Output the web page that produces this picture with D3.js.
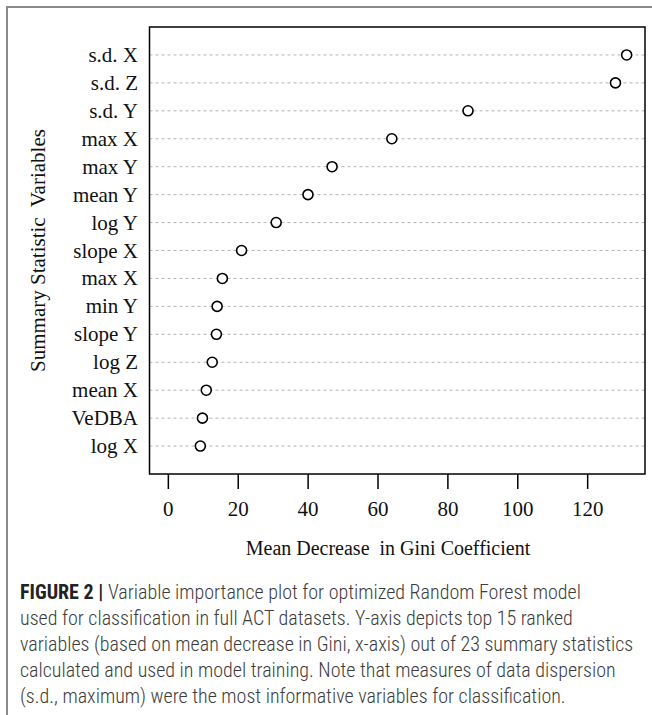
<!DOCTYPE html>
<html>
<head>
<meta charset="utf-8">
<script src="https://cdn.jsdelivr.net/npm/d3@7"></script>
<style>
  body { margin: 0; background: #fff; }
  svg { display: block; }
</style>
</head>
<body>
<svg id="chart" width="652" height="715"></svg>
<script>
// variables, top ranked first
const variables = ["s.d. X", "s.d. Z", "s.d. Y", "max X", "max Y", "mean Y", "log Y",
  "slope X", "max X", "min Y", "slope Y", "log Z", "mean X", "VeDBA", "log X"]
const giniValues = [131.3, 128.1, 85.9, 64.1, 47.0, 40.1, 31.0,
  21.1, 15.6, 14.1, 13.9, 12.7, 11.0, 9.9, 9.3]
const xTicks = [0, 20, 40, 60, 80, 100, 120]

const captionLines = [
  "Variable importance plot for optimized Random Forest model",
  "used for classification in full ACT datasets. Y-axis depicts top 15 ranked",
  "variables (based on mean decrease in Gini, x-axis) out of 23 summary statistics",
  "calculated and used in model training. Note that measures of data dispersion",
  "(s.d., maximum) were the most informative variables for classification."
]

const svg = d3.select("#chart")
const serif = "'Liberation Serif', 'Times New Roman', serif"

// outer frame (grey, top and left)
svg.append("path")
  .attr("d", "M7,715 V7 H652")
  .attr("fill", "none")
  .attr("stroke", "#8a8a8a")
  .attr("stroke-width", 2)

const box = { left: 149.5, right: 645, top: 27, bottom: 474 }
const n = variables.length

// dotchart style: 0..max with 4% padding
const xMax = d3.max(giniValues)
const pad = xMax * 0.04
const xScale = d3.scaleLinear().domain([-pad, xMax + pad]).range([box.left, box.right])
const yScale = d3.scaleLinear().domain([0, n + 1]).range([box.bottom, box.top])

const data = variables.map((v, i) => ({ name: v, value: giniValues[i], row: n - i }))

// dotted guide lines
svg.append("g")
  .selectAll("line")
  .data(data)
  .enter()
  .append("line")
  .attr("x1", box.left)
  .attr("x2", box.right)
  .attr("y1", d => yScale(d.row))
  .attr("y2", d => yScale(d.row))
  .attr("stroke", "#b4b4b4")
  .attr("stroke-width", 1)
  .attr("stroke-dasharray", "3,3")

// points
svg.append("g")
  .selectAll("circle")
  .data(data)
  .enter()
  .append("circle")
  .attr("cx", d => xScale(d.value))
  .attr("cy", d => yScale(d.row))
  .attr("r", 5)
  .attr("fill", "#fff")
  .attr("stroke", "#000")
  .attr("stroke-width", 1.6)

// plot box
svg.append("rect")
  .attr("x", box.left)
  .attr("y", box.top)
  .attr("width", box.right - box.left)
  .attr("height", box.bottom - box.top)
  .attr("fill", "none")
  .attr("stroke", "#000")
  .attr("stroke-width", 1.5)

// variable labels
svg.append("g")
  .selectAll("text")
  .data(data)
  .enter()
  .append("text")
  .attr("x", 138)
  .attr("y", d => yScale(d.row) + 7)
  .attr("text-anchor", "end")
  .attr("font-family", serif)
  .attr("font-size", "21px")
  .attr("fill", "#111")
  .text(d => d.name)

// x axis
const xAxis = d3.axisBottom(xScale).tickValues(xTicks).tickSize(15).tickPadding(12)
const gx = svg.append("g").attr("transform", `translate(0, ${box.bottom})`).call(xAxis)
gx.select(".domain").remove()
gx.selectAll(".tick line").attr("stroke", "#000").attr("stroke-width", 1.5)
gx.selectAll(".tick text")
  .attr("font-family", serif)
  .attr("font-size", "21px")
  .attr("fill", "#111")

// axis titles
svg.append("text")
  .attr("x", xScale(63))
  .attr("y", 555)
  .attr("text-anchor", "middle")
  .attr("font-family", serif)
  .attr("font-size", "20px")
  .attr("fill", "#111")
  .attr("xml:space", "preserve")
  .text("Mean Decrease  in Gini Coefficient")

svg.append("text")
  .attr("transform", `translate(45, ${(box.top + box.bottom) / 2}) rotate(-90)`)
  .attr("text-anchor", "middle")
  .attr("font-family", serif)
  .attr("font-size", "21px")
  .attr("fill", "#111")
  .attr("xml:space", "preserve")
  .text("Summary Statistic  Variables")

// caption
const cap = svg.append("g")
  .attr("font-family", "'Roboto Condensed', 'Liberation Sans', sans-serif")
  .attr("font-size", "20px")
  .attr("font-weight", 300)
  .attr("fill", "#3c3c3c")

captionLines.forEach((line, i) => {
  const t = cap.append("text").attr("x", 20).attr("y", 599 + i * 26)
  if (i === 0) {
    t.append("tspan").attr("font-weight", "bold").attr("fill", "#222").text("FIGURE 2 | ")
  }
  t.append("tspan").text(line)
})
</script>
</body>
</html>
